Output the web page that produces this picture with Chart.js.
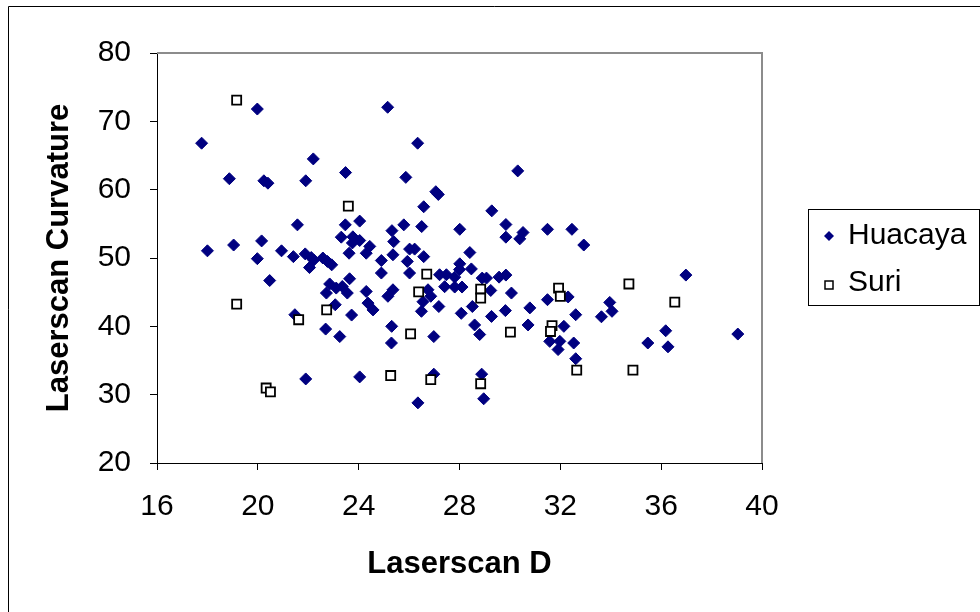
<!DOCTYPE html>
<html>
<head>
<meta charset="utf-8">
<title>Laserscan D vs Curvature</title>
<script src="https://cdn.jsdelivr.net/npm/chart.js@4.4.1/dist/chart.umd.min.js"></script>
<style>
    html, body { margin: 0; padding: 0; background: #fff; }
    #wrap { width: 980px; height: 612px; }
</style>
</head>
<body>
<div id="wrap"><canvas id="scatterChart" width="980" height="612"></canvas></div>
<script>
/* Data */
const xTicks = [16, 20, 24, 28, 32, 36, 40];
const yTicks = [20, 30, 40, 50, 60, 70, 80];

const huacayaD = [19.98, 17.77, 22.2, 18.87, 20.24, 20.4, 21.9, 23.48, 25.15, 26.34, 25.87, 27.06, 27.16, 30.31,
    21.57, 24.04, 23.47, 23.31, 23.77, 24.04, 23.75, 23.62, 24.3, 18.0, 19.04, 20.15, 19.98, 20.94, 21.41, 21.88,
    22.12, 22.22, 22.05, 22.58, 22.76, 22.93, 20.47, 22.85, 23.64, 22.72, 23.11, 23.35, 23.55, 23.07, 23.72, 21.47,
    22.69, 23.25, 21.9, 24.04,
    26.58, 29.28, 25.79, 26.5, 28.01, 29.84, 31.49, 25.32, 25.39, 29.84, 30.52, 30.39, 24.44, 25.36, 26.02, 26.22,
    26.58, 28.41, 24.9, 25.93, 28.01, 24.9, 26.02, 28.47, 27.21, 27.48, 28.0, 27.81, 28.9, 29.07, 29.57, 29.84,
    27.41, 27.81, 28.1, 26.75, 26.86, 24.3, 25.36, 25.16, 29.24, 30.06, 31.49, 24.37, 24.57, 26.55, 26.49, 27.18,
    28.51, 28.07, 29.27, 29.82, 30.79, 30.72, 25.31, 28.6, 28.8, 26.98, 32.14, 25.3, 31.58, 31.98, 31.91, 26.98,
    26.35, 28.88, 28.96, 32.46, 32.93, 36.98, 32.31, 33.96, 34.05, 33.63, 32.61, 36.18, 39.04, 32.53, 32.61, 35.47,
    36.27];
const huacayaCurv = [71.8, 66.8, 64.5, 61.6, 61.3, 60.95, 61.3, 62.5, 72.06, 66.8, 61.8, 59.7, 59.3, 62.75,
    54.85, 55.4, 54.85, 53.05, 53.1, 52.56, 52.2, 50.7, 50.7, 51.05, 51.9, 52.5, 49.9, 51.05, 50.2, 50.6,
    50.07, 49.7, 48.6, 50.0, 49.5, 49.0, 46.7, 46.2, 46.96, 44.87, 45.6, 45.83, 44.87, 43.16, 41.65, 41.7,
    39.6, 38.5, 32.3, 32.6,
    57.5, 56.9, 54.85, 54.6, 54.2, 54.9, 54.2, 54.0, 52.4, 53.05, 53.73, 52.8, 51.7, 50.47, 51.3, 51.3,
    50.2, 50.8, 49.63, 49.5, 49.15, 47.8, 47.8, 48.4, 47.55, 47.55, 48.3, 47.2, 47.06, 47.06, 47.2, 47.5,
    45.8, 45.75, 45.75, 45.35, 44.4, 45.1, 45.35, 44.4, 45.25, 44.87, 43.9, 43.4, 42.4, 43.6, 42.2, 42.9,
    42.9, 41.9, 41.45, 42.3, 42.7, 40.2, 40.0, 40.2, 38.8, 38.5, 40.0, 37.56, 37.8, 37.8, 36.6, 33.0,
    28.8, 33.0, 29.4, 54.2, 51.9, 47.5, 44.3, 43.5, 42.2, 41.4, 41.7, 39.35, 38.87, 37.56, 35.26, 37.56,
    37.0];

const suriD = [19.16, 23.59, 19.16, 22.73, 21.62, 20.33, 20.5, 26.7, 26.38, 28.84, 28.84, 31.93, 32.0, 30.02,
    31.67, 31.61, 26.06, 25.27, 26.86, 28.84, 34.72, 36.54, 32.65, 34.88];
const suriCurv = [73.1, 57.6, 43.26, 42.4, 40.97, 30.97, 30.4, 47.65, 45.05, 45.45, 44.14, 45.6, 44.4, 39.16,
    40.1, 39.25, 38.9, 32.8, 32.2, 31.6, 46.2, 43.55, 33.6, 33.6];

const seriesNames = ['Huacaya', 'Suri'];

function toPoints(xs, ys) {
    return xs.map((x, i) => ({ x: x, y: ys[i] }));
}

const FONT = "'Liberation Sans', Arial, sans-serif";
const NAVY = '#000080';

// outer chart frame + grey plot area edges
const framePlugin = {
    id: 'frame',
    beforeDraw(chart) {
        const ctx = chart.ctx;
        ctx.save();
        ctx.fillStyle = '#fff';
        ctx.fillRect(0, 0, chart.width, chart.height);
        ctx.strokeStyle = '#000';
        ctx.lineWidth = 1;
        ctx.beginPath();
        ctx.moveTo(8.5, chart.height);
        ctx.lineTo(8.5, 6.5);
        ctx.lineTo(chart.width, 6.5);
        ctx.stroke();
        ctx.restore();
    },
    afterDraw(chart) {
        const ctx = chart.ctx;
        const a = chart.chartArea;
        ctx.save();
        ctx.strokeStyle = '#8c8c8c';
        ctx.lineWidth = 2;
        ctx.beginPath();
        ctx.moveTo(a.left, a.top);
        ctx.lineTo(a.right, a.top);
        ctx.lineTo(a.right, a.bottom);
        ctx.stroke();
        ctx.restore();
    }
};

// Excel style legend box on the right
const boxLegendPlugin = {
    id: 'boxLegend',
    afterDraw(chart) {
        const ctx = chart.ctx;
        const box = { left: 808, top: 209, right: 979, bottom: 305 };
        ctx.save();
        ctx.strokeStyle = '#000';
        ctx.lineWidth = 1;
        ctx.strokeRect(box.left + 0.5, box.top + 0.5, box.right - box.left, box.bottom - box.top);

        // Huacaya marker
        const r = 5;
        let cx = 829, cy = 236;
        ctx.fillStyle = NAVY;
        ctx.beginPath();
        ctx.moveTo(cx - r, cy);
        ctx.lineTo(cx, cy - r);
        ctx.lineTo(cx + r, cy);
        ctx.lineTo(cx, cy + r);
        ctx.closePath();
        ctx.fill();

        // Suri marker
        cy = 285;
        ctx.fillStyle = '#fff';
        ctx.strokeStyle = '#000';
        ctx.lineWidth = 1.5;
        ctx.fillRect(cx - 4, cy - 4, 8, 8);
        ctx.strokeRect(cx - 4, cy - 4, 8, 8);

        ctx.fillStyle = '#000';
        ctx.font = `30px ${FONT}`;
        ctx.textAlign = 'left';
        ctx.textBaseline = 'middle';
        ctx.fillText(seriesNames[0], 848, 236);
        ctx.fillText(seriesNames[1], 848, 283);
        ctx.restore();
    }
};

function renderScatterChart() {
    const ctx = document.getElementById('scatterChart').getContext('2d');

    new Chart(ctx, {
        type: 'scatter',
        data: {
            datasets: [{
                label: seriesNames[0],
                data: toPoints(huacayaD, huacayaCurv),
                pointStyle: 'rectRot',
                pointRadius: 6,
                backgroundColor: NAVY,
                borderColor: NAVY,
                borderWidth: 1,
                order: 2
            }, {
                label: seriesNames[1],
                data: toPoints(suriD, suriCurv),
                pointStyle: 'rect',
                pointRadius: 6.4,
                backgroundColor: '#fff',
                borderColor: '#000',
                borderWidth: 1.8,
                order: 1
            }]
        },
        options: {
            responsive: false,
            animation: false,
            devicePixelRatio: 1,
            layout: {
                padding: { left: 0, right: 218, top: 53, bottom: 0 }
            },
            plugins: {
                legend: { display: false },
                tooltip: { enabled: false }
            },
            scales: {
                x: {
                    type: 'linear',
                    min: 16,
                    max: 40,
                    afterBuildTicks: scale => { scale.ticks = xTicks.map(v => ({ value: v })); },
                    afterFit: scale => { scale.height = 149; },
                    ticks: {
                        color: '#000',
                        padding: 19,
                        font: { family: FONT, size: 30 }
                    },
                    grid: { drawOnChartArea: false, drawTicks: true, tickLength: 7, color: '#000' },
                    border: { display: true, color: '#000', width: 1 },
                    title: {
                        display: true,
                        text: 'Laserscan D',
                        color: '#000',
                        font: { family: FONT, size: 31, weight: 'bold' },
                        padding: { top: 0, bottom: 29 }
                    }
                },
                y: {
                    type: 'linear',
                    min: 20,
                    max: 80,
                    afterBuildTicks: scale => { scale.ticks = yTicks.map(v => ({ value: v })); },
                    afterFit: scale => { scale.width = 157; },
                    ticks: {
                        color: '#000',
                        padding: 19,
                        font: { family: FONT, size: 30 }
                    },
                    grid: { drawOnChartArea: false, drawTicks: true, tickLength: 7, color: '#000' },
                    border: { display: true, color: '#000', width: 1 },
                    title: {
                        display: true,
                        text: 'Laserscan Curvature',
                        color: '#000',
                        font: { family: FONT, size: 31, weight: 'bold' },
                        padding: { top: 41, bottom: 0 }
                    }
                }
            }
        },
        plugins: [framePlugin, boxLegendPlugin]
    });
}

renderScatterChart();
</script>
</body>
</html>
